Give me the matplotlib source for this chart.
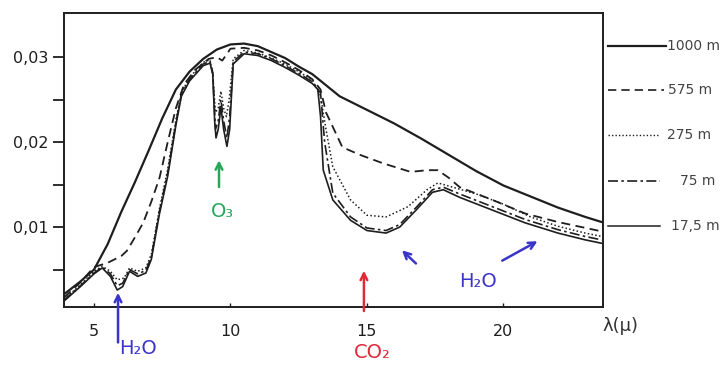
import numpy as np
import matplotlib.pyplot as plt
from matplotlib.lines import Line2D

# wavelength (micron) / radiance values
wl_1000 = [3.9, 4.5, 5.0, 5.5, 6.0, 6.5, 7.0, 7.5, 8.0, 8.5, 9.0, 9.5, 10.0, 10.5, 11.0, 11.5,
           12.0, 12.5, 13.0, 13.5, 14.0, 15.0, 16.0, 17.0, 18.0, 19.0, 20.0, 21.0, 22.0, 23.0, 23.6]
rad_1000 = [0.0021, 0.0036, 0.0050, 0.0080, 0.0118, 0.0153, 0.0190, 0.0228, 0.0262, 0.0283, 0.0298,
            0.0309, 0.0315, 0.0316, 0.0313, 0.0306, 0.0299, 0.0289, 0.0280, 0.0267, 0.0254, 0.0238,
            0.0222, 0.0204, 0.0185, 0.0166, 0.0149, 0.0136, 0.0123, 0.0112, 0.0106]

wl_575 = [3.9, 4.5, 5.0, 5.5, 6.0, 6.2, 6.5, 6.8, 7.1, 7.4, 7.7, 8.0, 8.3, 8.7, 9.2, 9.5, 9.7, 10.0,
          10.5, 11.0, 11.5, 12.0, 12.5, 13.0, 13.3, 13.5, 13.75, 14.1, 14.75, 15.6, 16.6, 17.2, 17.6,
          18.0, 18.4, 19.6, 20.8, 22.0, 23.6]
rad_575 = [0.0017, 0.0035, 0.0053, 0.0058, 0.0066, 0.0072, 0.0088, 0.0105, 0.0130, 0.0158, 0.0200,
           0.0240, 0.0268, 0.0285, 0.0298, 0.0300, 0.0296, 0.0310, 0.0311, 0.0308, 0.0302, 0.0294,
           0.0285, 0.0274, 0.0262, 0.0235, 0.0218, 0.0194, 0.0185, 0.0175, 0.0165, 0.0167, 0.0167,
           0.0158, 0.0147, 0.0132, 0.0116, 0.0106, 0.0095]

wl_275 = [3.9, 4.5, 5.0, 5.3, 5.6, 5.85, 6.1, 6.3, 6.6, 6.9, 7.1, 7.4, 7.7, 8.0, 8.2, 8.5, 9.0, 9.25,
          9.35, 9.45, 9.55, 9.65, 9.75, 9.85, 9.95, 10.1, 10.5, 11.0, 11.5, 12.0, 12.5, 13.0, 13.3,
          13.5, 13.75, 14.4, 15.0, 15.7, 16.5, 17.2, 17.6, 18.15, 19.1, 20.0, 21.0, 22.0, 23.0, 23.6]
rad_275 = [0.0015, 0.0032, 0.0048, 0.0054, 0.0048, 0.0038, 0.0040, 0.0052, 0.0048, 0.0052, 0.0068,
           0.0122, 0.0168, 0.0226, 0.0258, 0.0276, 0.0294, 0.0297, 0.0280, 0.0235, 0.0240, 0.0260,
           0.0240, 0.0230, 0.0250, 0.0298, 0.0308, 0.0305, 0.0299, 0.0292, 0.0283, 0.0273, 0.0255,
           0.0215, 0.0171, 0.0132, 0.0114, 0.0112, 0.0124, 0.0144, 0.0152, 0.0147, 0.0138, 0.0127,
           0.0112, 0.0101, 0.0093, 0.0089]

wl_75 = [3.9, 4.5, 5.0, 5.3, 5.6, 5.85, 6.05, 6.3, 6.6, 6.9, 7.1, 7.4, 7.7, 8.0, 8.2, 8.5, 9.0, 9.25,
         9.35, 9.45, 9.55, 9.65, 9.75, 9.87, 9.97, 10.1, 10.5, 11.0, 11.5, 12.0, 12.5, 13.0, 13.3,
         13.45, 13.75, 14.4, 15.0, 15.7, 16.2, 16.8, 17.4, 17.8, 18.4, 19.6, 20.8, 22.0, 23.0, 23.6]
rad_75 = [0.0014, 0.0031, 0.0046, 0.0053, 0.0045, 0.0031, 0.0034, 0.0050, 0.0045, 0.0049, 0.0065,
          0.0119, 0.0164, 0.0223, 0.0256, 0.0274, 0.0292, 0.0295, 0.0282, 0.0215, 0.0225, 0.0250,
          0.0225, 0.0205, 0.0230, 0.0295, 0.0306, 0.0304, 0.0298, 0.0290, 0.0281, 0.0271, 0.0258,
          0.0200, 0.0140, 0.0112, 0.0099, 0.0096, 0.0103, 0.0123, 0.0144, 0.0147, 0.0139, 0.0124,
          0.0109, 0.0097, 0.0089, 0.0085]

wl_17 = [3.9, 4.5, 5.0, 5.3, 5.6, 5.85, 6.05, 6.3, 6.6, 6.9, 7.1, 7.4, 7.7, 8.0, 8.2, 8.5, 9.0, 9.25,
         9.35, 9.42, 9.47, 9.55, 9.65, 9.75, 9.87, 9.97, 10.1, 10.5, 11.0, 11.5, 12.0, 12.5, 13.0,
         13.2, 13.3, 13.4, 13.75, 14.4, 15.0, 15.7, 16.2, 16.8, 17.4, 17.8, 18.4, 19.6, 20.8, 22.0,
         23.0, 23.6]
rad_17 = [0.0013, 0.0030, 0.0045, 0.0052, 0.0042, 0.0026, 0.0030, 0.0048, 0.0042, 0.0046, 0.0062,
          0.0116, 0.0160, 0.0220, 0.0254, 0.0272, 0.0290, 0.0293, 0.0280, 0.0225, 0.0205, 0.0215,
          0.0241, 0.0215, 0.0195, 0.0215, 0.0292, 0.0304, 0.0302, 0.0296, 0.0288, 0.0279, 0.0269,
          0.0262, 0.0230, 0.0167, 0.0132, 0.0108, 0.0096, 0.0093, 0.0100, 0.0120, 0.0141, 0.0144,
          0.0135, 0.0120, 0.0105, 0.0093, 0.0085, 0.0081]

level_labels = ['1000 m', '575 m', '275 m', '75 m', '17,5 m']
x_ticks = [5, 10, 15, 20]
y_ticks = [0.01, 0.02, 0.03]
y_ticklabels = ['0,01', '0,02', '0,03']
y_minor = [0.005, 0.015, 0.025]

ink = '#1e1e1e'
fig = plt.figure(figsize=(7.23, 3.65), dpi=100)
ax = fig.add_axes([64 / 723, 1 - 307 / 365, (603 - 64) / 723, (307 - 13) / 365])

ax.plot(wl_1000, rad_1000, color=ink, lw=1.6, ls='-')
ax.plot(wl_575, rad_575, color=ink, lw=1.3, ls=(0, (5, 3)))
ax.plot(wl_275, rad_275, color=ink, lw=1.1, ls=(0, (1, 1.5)))
ax.plot(wl_75, rad_75, color=ink, lw=1.2, ls=(0, (6, 2, 1.5, 2)))
ax.plot(wl_17, rad_17, color=ink, lw=1.2, ls='-')

ax.set_xlim(3.9, 23.65)
ax.set_ylim(0.0006, 0.0352)
ax.set_xticks(x_ticks)
ax.set_xticklabels([str(t) for t in x_ticks])
ax.set_yticks(y_ticks)
ax.set_yticklabels(y_ticklabels)
ax.set_yticks(y_minor, minor=True)
ax.tick_params(axis='y', which='both', direction='out', length=8, width=1.3, pad=3,
               labelsize=11.5, colors=ink)
ax.tick_params(axis='x', direction='in', length=3, width=1, pad=12, labelsize=11.5, colors=ink)
for s in ax.spines.values():
    s.set_linewidth(1.4)
    s.set_color(ink)

# axis label written at the right end
fig.text(620 / 723, 1 - 326 / 365, 'λ(μ)', fontsize=13, color='#333333', ha='center', va='center')

# legend drawn outside the box
leg_y = [46, 90, 135, 181, 226]
leg_style = [('-', 1.6), ((0, (5, 3)), 1.2), ((0, (1, 1.5)), 1.0), ((0, (6, 2, 1.5, 2)), 1.2), ('-', 1.1)]
leg_x1 = [666, 664, 660, 660, 660]
leg_tx = [667, 668, 667, 680, 671]
for lab, yy, (ls, lw), x1, tx in zip(level_labels, leg_y, leg_style, leg_x1, leg_tx):
    fy = 1 - yy / 365
    fig.add_artist(Line2D([608 / 723, x1 / 723], [fy, fy], color=ink, ls=ls, lw=lw))
    fig.text(tx / 723, fy, lab, fontsize=10, color='#444444', va='center', ha='left')

# hand written notes
blue = '#3a34c8'
green = '#27a65a'
red = '#e02838'
hand = dict(fontsize=14, ha='center', va='center')
arrow = lambda c: dict(arrowstyle='->', color=c, lw=1.8, mutation_scale=12)

ax.annotate('', xy=(5.88, 0.0026), xytext=(5.88, -0.0039), arrowprops=arrow(blue), annotation_clip=False)
ax.text(6.6, -0.0043, 'H₂O', color=blue, clip_on=False, **hand)

ax.annotate('', xy=(9.58, 0.0182), xytext=(9.58, 0.0144), arrowprops=arrow(green))
ax.text(9.69, 0.0118, 'O₃', color=green, **hand)

ax.annotate('', xy=(14.89, 0.0052), xytext=(14.89, -0.0002), arrowprops=arrow(red), annotation_clip=False)
ax.text(15.2, -0.0047, 'CO₂', color=red, clip_on=False, **hand)

ax.annotate('', xy=(16.21, 0.0075), xytext=(16.87, 0.0055), arrowprops=arrow(blue))
ax.annotate('', xy=(21.34, 0.0085), xytext=(19.87, 0.0059), arrowprops=arrow(blue))
ax.text(19.07, 0.0036, 'H₂O', color=blue, **hand)

fig.savefig('out.png', dpi=100)
